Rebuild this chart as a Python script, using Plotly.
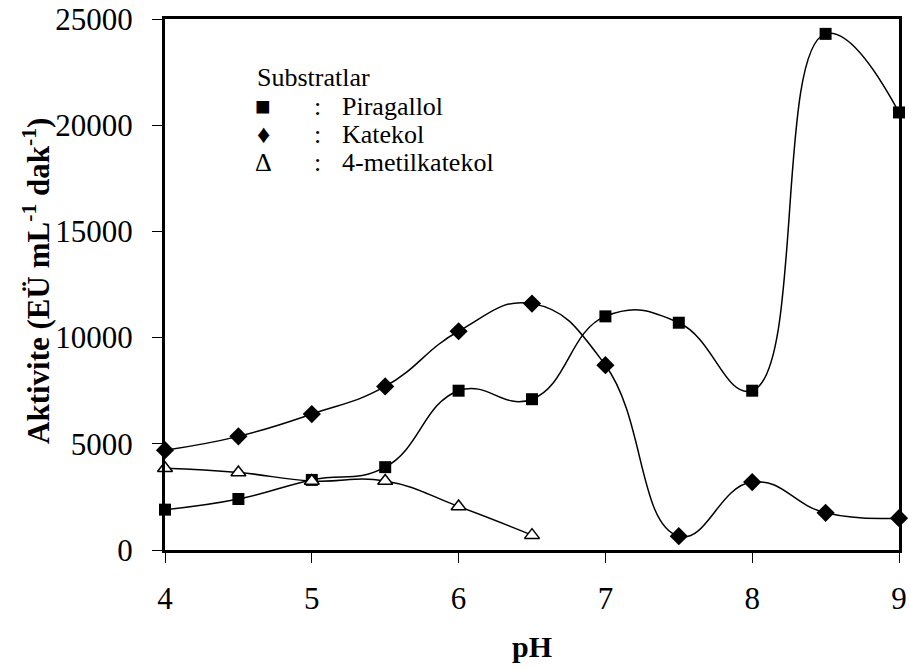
import plotly.graph_objects as go

ph = [4, 4.5, 5, 5.5, 6, 6.5, 7, 7.5, 8, 8.5, 9]
piragallol = [1900, 2400, 3300, 3900, 7500, 7100, 11000, 10700, 7500, 24300, 20600]
katekol = [4700, 5350, 6400, 7700, 10300, 11600, 8700, 650, 3200, 1750, 1500]
ph_metil = [4, 4.5, 5, 5.5, 6, 6.5]
metilkatekol = [3850, 3650, 3250, 3250, 2050, 700]

x_ticks = [4, 5, 6, 7, 8, 9]
y_ticks = [0, 5000, 10000, 15000, 20000, 25000]
y_tick_text = ["0", "5000", "10000", "15000", "20000", "25000"]

FONT = "Times New Roman, Liberation Serif, serif"
L, R, T, B = 165, 10, 19, 118
W, H = 909, 668
PW, PH = W - L - R, H - T - B


def px(x):
    return (x - L) / PW


def py(y):
    return (H - B - y) / PH


fig = go.Figure()
line = dict(color="black", width=1.5, shape="spline", smoothing=1.3)
fig.add_trace(go.Scatter(x=ph, y=piragallol, mode="lines+markers", name="Piragallol",
                         line=line, marker=dict(symbol="square", size=12, color="black"),
                         showlegend=False, cliponaxis=False))
fig.add_trace(go.Scatter(x=ph, y=katekol, mode="lines+markers", name="Katekol",
                         line=line, marker=dict(symbol="diamond", size=14, color="black"),
                         showlegend=False, cliponaxis=False))
fig.add_trace(go.Scatter(x=ph_metil, y=metilkatekol, mode="lines+markers", name="4-metilkatekol",
                         line=line, marker=dict(symbol="triangle-up", size=13, color="white",
                                                line=dict(color="black", width=1.5)),
                         showlegend=False, cliponaxis=False))

axis_common = dict(showline=True, linecolor="black", linewidth=3, mirror=True,
                   showgrid=False, zeroline=False, ticks="outside", ticklen=10,
                   tickwidth=1.2, tickcolor="black", automargin=False,
                   tickfont=dict(family=FONT, size=31, color="black"))

fig.update_xaxes(range=[4, 9], tickvals=x_ticks, ticklabelstandoff=9, **axis_common)
fig.update_yaxes(range=[0, 25000], tickvals=y_ticks, ticktext=y_tick_text,
                 ticklabelstandoff=13, **axis_common)

ann = []
ann.append(dict(text="<b>pH</b>", x=0.5, y=py(646), xref="paper", yref="paper",
                showarrow=False, font=dict(family=FONT, size=30, color="black"),
                xanchor="center", yanchor="middle"))
ann.append(dict(text="<b>Aktivite (EÜ mL<sup>-1</sup> dak<sup>-1</sup>)</b>", x=px(36), y=py(281),
                xref="paper", yref="paper", showarrow=False, textangle=-90,
                font=dict(family=FONT, size=31, color="black"),
                xanchor="center", yanchor="middle"))

legend_title = "Substratlar"
legend_symbols = ["■", "♦", "Δ"]
legend_names = ["Piragallol", "Katekol", "4-metilkatekol"]
lf = dict(family=FONT, size=26, color="black")
ann.append(dict(text=legend_title, x=px(255), y=py(77), xref="paper", yref="paper",
                showarrow=False, font=lf, xanchor="left", yanchor="middle"))
row_y = [106, 134, 162]
for s, n, yv in zip(legend_symbols, legend_names, row_y):
    yy = py(yv)
    ann.append(dict(text=s, x=px(263), y=yy, xref="paper", yref="paper", showarrow=False,
                    font=lf, xanchor="center", yanchor="middle"))
    ann.append(dict(text=":", x=px(317), y=yy, xref="paper", yref="paper", showarrow=False,
                    font=lf, xanchor="center", yanchor="middle"))
    ann.append(dict(text=n, x=px(340), y=yy, xref="paper", yref="paper", showarrow=False,
                    font=lf, xanchor="left", yanchor="middle"))

fig.update_layout(width=W, height=H, margin=dict(l=L, r=R, t=T, b=B),
                  plot_bgcolor="white", paper_bgcolor="white", annotations=ann,
                  font=dict(family=FONT, color="black"))

fig.write_html("out.html")
